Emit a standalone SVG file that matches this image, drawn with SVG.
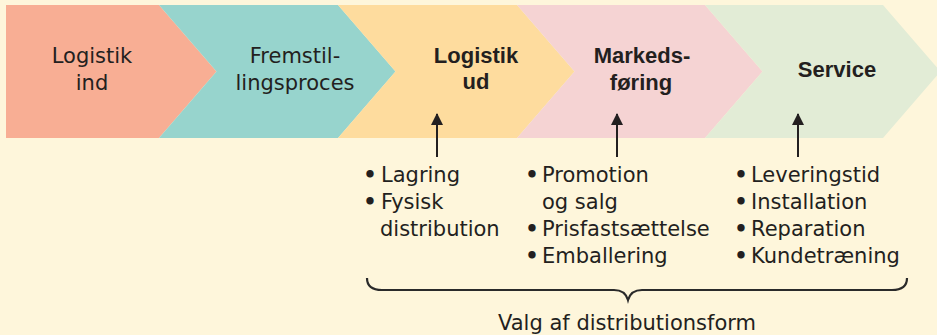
<svg xmlns="http://www.w3.org/2000/svg" width="937" height="335" viewBox="0 0 937 335">
  <defs>
    <marker id="ah" markerUnits="userSpaceOnUse" markerWidth="12" markerHeight="12" viewBox="0 0 12 12" refX="11" refY="6" orient="auto">
      <path d="M0,0 L12,6 L0,12 Z" fill="#231f20"/>
    </marker>
  </defs>
  <style>
    .t { font-family: "DejaVu Sans", "Liberation Sans", sans-serif; font-size: 21px; fill: #231f20; }
    .b { font-family: "Liberation Sans", Arial, sans-serif; font-size: 22px; font-weight: bold; fill: #231f20; }
    .c { text-anchor: middle; }
    .bl { font-family: "DejaVu Sans", sans-serif; font-size: 21px; font-weight: bold; fill: #231f20; text-anchor: middle; }
    .arr { stroke: #231f20; stroke-width: 2; fill: none; }
    .brace { stroke: #2a2a2a; stroke-width: 2.2; fill: none; }
  </style>
  <rect x="0" y="0" width="937" height="335" fill="#fef6db"/>

  <g id="logistik-ind">
    <polygon points="6,5 159,5 216.5,71.5 159,138 6,138" fill="#f8ae94"/>
    <text class="t c" x="92" y="63">Logistik</text>
    <text class="t c" x="92" y="90">ind</text>
  </g>
  <g id="fremstillingsproces">
    <polygon points="159,5 338,5 395.5,71.5 338,138 159,138 216.5,71.5" fill="#97d4cd"/>
    <text class="t c" x="295" y="63">Fremstil-</text>
    <text class="t c" x="295" y="90">lingsproces</text>
  </g>
  <g id="logistik-ud">
    <polygon points="338,5 517,5 574.5,71.5 517,138 338,138 395.5,71.5" fill="#fedc9e"/>
    <text class="b c" x="476" y="63">Logistik</text>
    <text class="b c" x="476" y="89">ud</text>
  </g>
  <g id="markedsfoering">
    <polygon points="517,5 705,5 762.5,71.5 705,138 517,138 574.5,71.5" fill="#f5d3d3"/>
    <text class="b c" x="642" y="63">Markeds-</text>
    <text class="b c" x="641" y="90">føring</text>
  </g>
  <g id="service">
    <polygon points="705,5 883,5 940.5,71.5 883,138 705,138 762.5,71.5" fill="#e2ecd6"/>
    <text class="b c" x="837" y="77">Service</text>
  </g>

  <g id="connectors">
    <line class="arr" x1="437" y1="157" x2="437" y2="114" marker-end="url(#ah)"/>
    <line class="arr" x1="617" y1="157" x2="617" y2="114" marker-end="url(#ah)"/>
    <line class="arr" x1="798" y1="157" x2="798" y2="114" marker-end="url(#ah)"/>
  </g>

  <g id="list-logistik-ud">
    <text class="bl" x="370" y="182">•</text>
    <text class="t" x="381" y="182">Lagring</text>
    <text class="bl" x="370" y="209">•</text>
    <text class="t" x="381" y="209">Fysisk</text>
    <text class="t" x="380" y="236">distribution</text>
  </g>
  <g id="list-markedsfoering">
    <text class="bl" x="532" y="182">•</text>
    <text class="t" x="542" y="182">Promotion</text>
    <text class="t" x="542" y="209">og salg</text>
    <text class="bl" x="532" y="236">•</text>
    <text class="t" x="542" y="236">Prisfastsættelse</text>
    <text class="bl" x="532" y="263">•</text>
    <text class="t" x="542" y="263">Emballering</text>
  </g>
  <g id="list-service">
    <text class="bl" x="741" y="182">•</text>
    <text class="t" x="751" y="182">Leveringstid</text>
    <text class="bl" x="741" y="209">•</text>
    <text class="t" x="751" y="209">Installation</text>
    <text class="bl" x="741" y="236">•</text>
    <text class="t" x="751" y="236">Reparation</text>
    <text class="bl" x="741" y="263">•</text>
    <text class="t" x="751" y="263">Kundetræning</text>
  </g>

  <g id="brace-group">
    <path class="brace" d="M367,278 C367,286 372,290 382,290 L614,290 C622,290 626,293 628,300 C630,293 634,290 642,290 L892,290 C902,290 907,286 907,278"/>
    <text class="t c" x="627" y="330">Valg af distributionsform</text>
  </g>
</svg>
